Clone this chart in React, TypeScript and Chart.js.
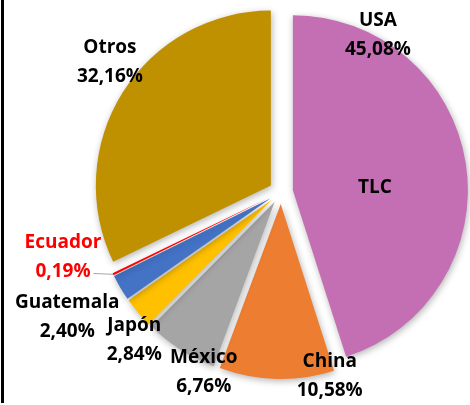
import React, { useEffect, useRef } from "react";
import { Chart, registerables } from "chart.js";

Chart.register(...registerables);

// ---- data ----
const categories = ["USA", "China", "México", "Japón", "Guatemala", "Ecuador", "Otros"];
const shares = [45.08, 10.58, 6.76, 2.84, 2.4, 0.19, 32.16];
const sliceColors = ["#C46FB3", "#ED7D31", "#A5A5A5", "#FFC000", "#4472C4", "#FF0000", "#BF9000"];
const labelColors = ["#000000", "#000000", "#000000", "#000000", "#000000", "#FF0000", "#000000"];
const innerNote = "TLC";

// ---- layout (polar placement of labels around the pie centre) ----
const labelPolar: [number, number][] = [
  [31.7, 1.054],
  [165.2, 1.09],
  [203.2, 1.12],
  [224.8, 1.19],
  [239.7, 1.415],
  [253.4, 1.3],
  [307.2, 1.227],
];
const notePolar: [number, number] = [87.6, 0.537];
const EXPLODE = 12;
const RADIUS = 175;
const FONT = "bold 19px 'Open Sans'";
const LINE_GAP = 29;

const fmt = (v: number) => v.toFixed(2).replace(".", ",") + "%";

const polarPoint = (cx: number, cy: number, r: number, deg: number, f: number) => {
  const a = (deg * Math.PI) / 180;
  return { x: cx + Math.sin(a) * r * f, y: cy - Math.cos(a) * r * f };
};

const explodedPie = {
  id: "explodedPie",
  beforeDatasetDraw(chart: any, args: any) {
    const ctx = chart.ctx;
    ctx.save();
    ctx.shadowColor = "rgba(0,0,0,0.30)";
    ctx.shadowBlur = 7;
    ctx.shadowOffsetX = 1;
    ctx.shadowOffsetY = 2;
    args.meta.data.forEach((el: any) => {
      const { startAngle, endAngle } = el.getProps(["startAngle", "endAngle"], true);
      const mid = (startAngle + endAngle) / 2;
      ctx.save();
      ctx.translate(Math.cos(mid) * EXPLODE, Math.sin(mid) * EXPLODE);
      el.draw(ctx, chart.chartArea);
      ctx.restore();
    });
    ctx.restore();
    return false;
  },
};

const pieLabels = {
  id: "pieLabels",
  afterDraw(chart: any) {
    const ctx = chart.ctx;
    const meta = chart.getDatasetMeta(0);
    const first = meta.data[0];
    const { x: cx, y: cy, outerRadius } = first.getProps(["x", "y", "outerRadius"], true);
    ctx.save();
    ctx.font = FONT;
    ctx.textAlign = "center";
    ctx.textBaseline = "middle";
    categories.forEach((name, i) => {
      const [deg, f] = labelPolar[i];
      const p = polarPoint(cx, cy, outerRadius, deg, f);
      ctx.fillStyle = labelColors[i];
      ctx.fillText(name, p.x, p.y - LINE_GAP / 2);
      const pct = fmt(shares[i]);
      ctx.fillText(pct, p.x, p.y + LINE_GAP / 2);
      if (name === "Ecuador") {
        const el = meta.data[i];
        const { startAngle, endAngle } = el.getProps(["startAngle", "endAngle"], true);
        const mid = (startAngle + endAngle) / 2;
        const ex = cx + Math.cos(mid) * (outerRadius + EXPLODE);
        const ey = cy + Math.sin(mid) * (outerRadius + EXPLODE);
        const w = ctx.measureText(pct).width;
        const sx = p.x + w / 2 + 3;
        const sy = p.y + LINE_GAP / 2 + 2;
        ctx.strokeStyle = "#A6A6A6";
        ctx.lineWidth = 1;
        ctx.beginPath();
        ctx.moveTo(sx, sy);
        ctx.lineTo(ex, ey);
        ctx.stroke();
      }
    });
    const n = polarPoint(cx, cy, outerRadius, notePolar[0], notePolar[1]);
    ctx.fillStyle = "#000000";
    ctx.fillText(innerNote, n.x, n.y);
    ctx.restore();
  },
};

export default function App() {
  const ref = useRef<HTMLCanvasElement | null>(null);
  useEffect(() => {
    if (!ref.current) return;
    const chart = new Chart(ref.current, {
      type: "pie",
      data: {
        labels: categories,
        datasets: [
          {
            data: shares,
            backgroundColor: sliceColors,
            borderWidth: 0,
          },
        ],
      },
      options: {
        animation: false,
        responsive: false,
        radius: RADIUS,
        layout: { padding: { left: 100, right: 8, top: 10, bottom: 31 } },
        plugins: {
          legend: { display: false },
          tooltip: { enabled: false },
        },
        events: [],
      } as any,
      plugins: [explodedPie, pieLabels],
    });
    return () => chart.destroy();
  }, []);
  return (
    <div style={{ position: "fixed", left: 0, top: 0, width: 470, height: 405, background: "#ffffff" }}>
      <canvas ref={ref} width={470} height={405} style={{ display: "block" }} />
      <div style={{ position: "absolute", left: 1, top: 0, width: 3, height: 403, background: "#000000" }} />
    </div>
  );
}
